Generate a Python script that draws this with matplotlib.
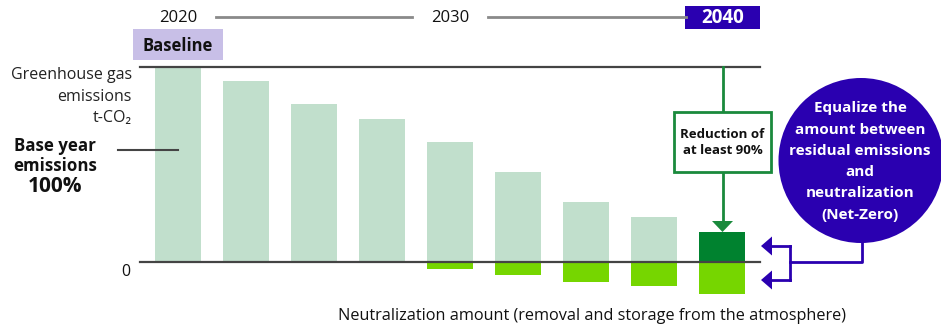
import matplotlib
matplotlib.use("Agg")
import matplotlib.pyplot as plt
import matplotlib.transforms as mtransforms
from matplotlib.patches import Rectangle, Circle, Polygon
import numpy as np

plt.rcParams['font.family'] = ['Open Sans', 'DejaVu Sans']

# Data: emissions relative to base year (%) and neutralization amounts (%)
emissions = [100, 92.8, 81.0, 73.3, 61.5, 46.2, 30.8, 23.1, 15.4]
neutralization = [0, 0, 0, 0, 3.6, 6.7, 10.1, 12.3, 16.2]
milestone_years = ["2020", "2030", "2040"]

W, H = 941, 326
fig = plt.figure(figsize=(W / 100, H / 100), dpi=100)
ax = fig.add_axes([0, 0, 1, 1])
ax.set_axis_off()

# Axis scale: bar index -> horizontal position, percent -> vertical position
X0, DX = 178.0, 68.0      # pixel centre of first bar, spacing
Y0, DY = 262.0, 1.95      # pixel row of zero, pixels per percent
ax.set_xlim(-X0 / DX, (W - X0) / DX)
ax.set_ylim((Y0 - H) / DY, Y0 / DY)

# transform in pixel units measured from the top-left corner
tp = mtransforms.Affine2D().scale(1 / W, -1 / H).translate(0, 1) + fig.transFigure

light_green = "#c1dfcc"
bright_green = "#76d600"
dark_green = "#00822f"
purple = "#2a00b0"
lavender = "#c8bfe7"
line_dark = "#444444"
line_grey = "#8a8a8a"

idx = np.arange(len(emissions))
bw = 46 / DX
colors = [light_green] * (len(emissions) - 1) + [dark_green]
ax.bar(idx, emissions, width=bw, color=colors, zorder=2)
neg = [-v for v in neutralization]
ax.bar(idx, neg, width=bw, color=bright_green, zorder=2)

# 100% and zero reference lines
ax.plot([140, 760], [67, 67], transform=tp, color=line_dark, lw=1.6, zorder=3)
ax.plot([140, 760], [262, 262], transform=tp, color=line_dark, lw=1.6, zorder=3)

# Timeline across the top
ax.text(178, 18, milestone_years[0], transform=tp, ha="center", va="center", fontsize=12, color="#111")
ax.text(450, 18, milestone_years[1], transform=tp, ha="center", va="center", fontsize=12, color="#111")
ax.plot([216, 412], [17, 17], transform=tp, color=line_grey, lw=2)
ax.plot([488, 686], [17, 17], transform=tp, color=line_grey, lw=2)
ax.add_patch(Rectangle((685, 6), 75, 23, transform=tp, color=purple, lw=0))
ax.text(722.5, 18, milestone_years[2], transform=tp, ha="center", va="center",
        fontsize=13.5, color="white", fontweight="bold")

# Baseline tag
ax.add_patch(Rectangle((133, 29), 90, 31, transform=tp, color=lavender, lw=0))
ax.text(178, 46, "Baseline", transform=tp, ha="center", va="center",
        fontsize=12, fontweight="bold", color="#111")

# Left-side labels
for y, s in [(75, "Greenhouse gas"), (97, "emissions"), (118, "t-CO₂")]:
    ax.text(132, y, s, transform=tp, ha="right", va="center", fontsize=11.5, color="#222")
for y, s, fs in [(146, "Base year", 12.2), (166, "emissions", 12.2), (186, "100%", 15)]:
    ax.text(55, y, s, transform=tp, ha="center", va="center", fontsize=fs,
            fontweight="bold", color="#111")
ax.plot([118, 178], [150, 150], transform=tp, color=line_dark, lw=1.5, zorder=3)
ax.text(126, 272, "0", transform=tp, ha="center", va="center", fontsize=11.5, color="#111")

ax.text(592, 316, "Neutralization amount (removal and storage from the atmosphere)",
        transform=tp, ha="center", va="center", fontsize=11.7, color="#111")

# Reduction callout with arrow to the 2040 bar
ax.plot([723, 723], [67, 112], transform=tp, color="#1a8a3c", lw=2, zorder=3)
ax.plot([723, 723], [172, 222], transform=tp, color="#1a8a3c", lw=2, zorder=3)
ax.add_patch(Polygon([(712, 221), (733, 221), (722.5, 232)], closed=True,
                     transform=tp, color="#1a8a3c", lw=0, zorder=3))
ax.add_patch(Rectangle((674, 112), 97, 60, transform=tp, facecolor="white",
                       edgecolor="#1a8a3c", lw=2, zorder=3))
ax.text(722.5, 134.5, "Reduction of", transform=tp, ha="center", va="center",
        fontsize=9.5, fontweight="bold", color="#111", zorder=4)
ax.text(722.5, 151, "at least 90%", transform=tp, ha="center", va="center",
        fontsize=9.5, fontweight="bold", color="#111", zorder=4)

# Net-Zero circle
ax.add_patch(Circle((861, 160.5), 82.5, transform=tp, color=purple, lw=0, zorder=3))
for y, s in [(108, "Equalize the"), (130, "amount between"), (151, "residual emissions"),
             (172, "and"), (193, "neutralization"), (215, "(Net-Zero)")]:
    ax.text(860, y, s, transform=tp, ha="center", va="center", fontsize=11,
            fontweight="bold", color="white", zorder=4)

# Bracket arrows from the circle to residual and neutralization
ax.plot([862, 862, 790], [242, 262, 262], transform=tp, color=purple, lw=2, zorder=3)
ax.plot([790, 790], [246, 280], transform=tp, color=purple, lw=2, zorder=3)
for y in (246, 280):
    ax.plot([770, 790], [y, y], transform=tp, color=purple, lw=2, zorder=3)
    ax.add_patch(Polygon([(761, y), (772, y - 9.5), (772, y + 9.5)], closed=True,
                         transform=tp, color=purple, lw=0, zorder=3))

fig.savefig("out.png", dpi=100)
